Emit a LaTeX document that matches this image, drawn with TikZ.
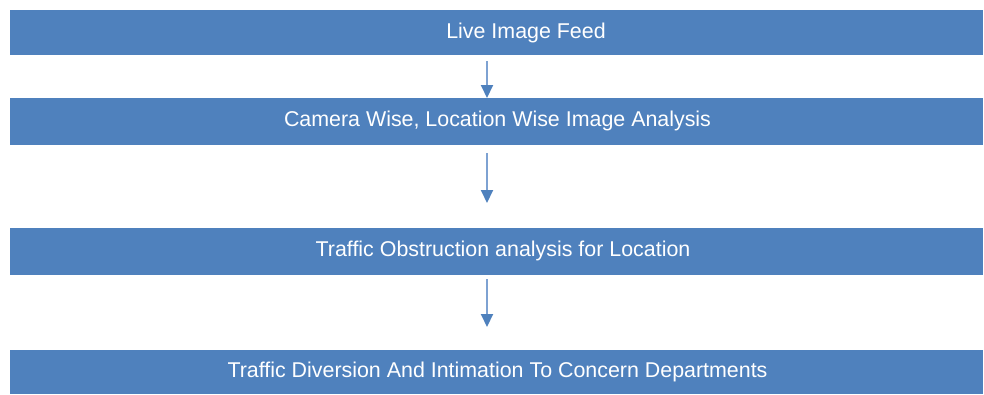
\documentclass[tikz,border=0pt]{standalone}
\usepackage{fontspec}
\setmainfont{Liberation Sans}
\usetikzlibrary{arrows.meta}
\definecolor{barblue}{HTML}{4F81BD}
\definecolor{linkblue}{HTML}{7EA2D2}
\tikzset{
  bar/.style={fill=barblue, draw=none, minimum width=973pt, inner sep=0pt, anchor=north west},
  lbl/.style={text=white, font=\fontsize{21.4}{24}\selectfont, inner sep=0pt},
  arr/.style={draw=linkblue, line width=2pt, -{Triangle[length=13pt,width=12pt,color=barblue]}}
}
\begin{document}
\begin{tikzpicture}[x=1pt,y=-1pt]
        \useasboundingbox (0,0) rectangle (984,394);

        % Barras
        \node[bar, minimum height=45pt] (feed) at (10,10) {};
        \node[bar, minimum height=47pt] (camera) at (10,98) {};
        \node[bar, minimum height=47pt] (obstr) at (10,228) {};
        \node[bar, minimum height=44pt] (divers) at (10,350) {};

        % Textos
        \node[lbl] (tfeed) at (526,32.5) {Live Image Feed};
        \node[lbl] (tcamera) at (497.5,121) {Camera Wise, Location Wise Image Analysis};
        \node[lbl] (tobstr) at (503,251) {Traffic Obstruction analysis for Location};
        \node[lbl] (tdivers) at (497.5,372) {Traffic Diversion And Intimation To Concern Departments};

        % Flechas
        \coordinate (ax) at (487,0);
        \draw[arr, shorten <=6pt] (feed.south -| ax) -- (camera.north -| ax);
        \draw[arr, shorten <=8pt, shorten >=25pt] (camera.south -| ax) -- (obstr.north -| ax);
        \draw[arr, shorten <=4pt, shorten >=23pt] (obstr.south -| ax) -- (divers.north -| ax);
\end{tikzpicture}
\end{document}
